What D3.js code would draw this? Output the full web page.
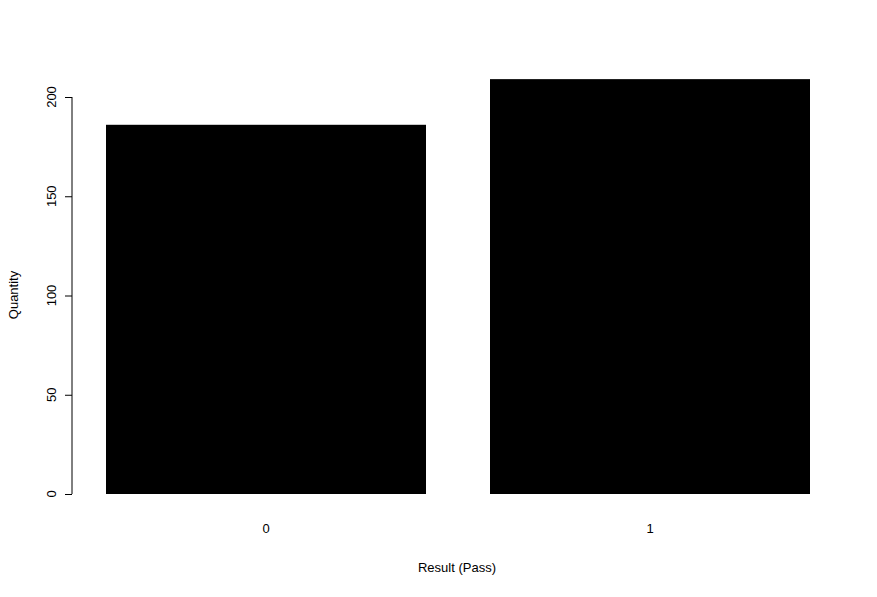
<!DOCTYPE html>
<html><head><meta charset="utf-8">
<script src="https://cdn.jsdelivr.net/npm/d3@7"></script>
<style>body{margin:0;background:#fff}text{font-family:"Liberation Sans",Arial,sans-serif;font-size:13px}</style>
</head><body>
<script>
var categories = ["0", "1"];
var counts = [186, 209];
var yTicks = [0, 50, 100, 150, 200];

var svg = d3.select("body").append("svg").attr("width", 877).attr("height", 597);

// R barplot units: bar i spans 0.2+1.2i .. 1.2+1.2i
var x = d3.scaleLinear().domain([0, 1]).range([42, 362]);
var y = d3.scaleLinear().domain([0, 200]).range([494, 97]);

svg.selectAll(".bar").data(counts).enter().append("rect")
	.attr("x", function(d, i) { return x(0.2 + 1.2 * i); })
	.attr("width", x(1) - x(0))
	.attr("y", function(d) { return y(d); })
	.attr("height", function(d) { return y(0) - y(d); })
	.style("fill", "black");

var ax = svg.append("g").attr("transform", "translate(72,0)")
	.call(d3.axisLeft(y).tickValues(yTicks).tickSize(7).tickPadding(0).tickFormat(""));
ax.selectAll("path,line").style("stroke", "black");
ax.select(".domain").attr("d", "M0," + y(0) + "V" + y(200));

svg.selectAll(".ylab").data(yTicks).enter().append("text")
	.attr("transform", function(d) { return "translate(56," + y(d) + ") rotate(-90)"; })
	.style("text-anchor", "middle")
	.text(function(d) { return d; });

svg.selectAll(".xlab").data(categories).enter().append("text")
	.attr("x", function(d, i) { return x(0.7 + 1.2 * i); })
	.attr("y", 533)
	.style("text-anchor", "middle")
	.text(function(d) { return d; });

svg.append("text").attr("x", 457).attr("y", 572).style("text-anchor", "middle").text("Result (Pass)");
svg.append("text").attr("transform", "translate(18,295) rotate(-90)").style("text-anchor", "middle").text("Quantity");
</script>
</body></html>
